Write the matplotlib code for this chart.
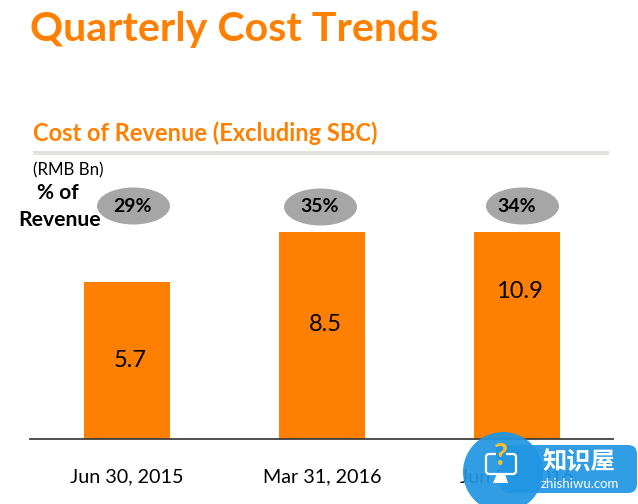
import matplotlib
matplotlib.use("Agg")
import matplotlib.pyplot as plt
from matplotlib.patches import Ellipse, FancyBboxPatch, Circle, Rectangle, Polygon

plt.rcParams['font.family'] = ['Lato', 'DejaVu Sans']

quarters = ["Jun 30, 2015", "Mar 31, 2016", "Jun 30, 2016"]
bar_heights = [5.7, 7.52, 7.52]   # heights as drawn in the source picture
value_labels = ["5.7", "8.5", "10.9"]
pct_labels = ["29%", "35%", "34%"]

ORANGE = "#FF8000"
W, H = 638, 504
fig = plt.figure(figsize=(W/100, H/100), dpi=100, facecolor="white")

# overlay in pixel coordinates for slide furniture
bg = fig.add_axes([0, 0, 1, 1])
bg.set_xlim(0, W); bg.set_ylim(H, 0); bg.axis("off")

# bar axes
x0, x1, ytop, ybase = 30, 613, 160, 439
ax = fig.add_axes([x0/W, 1-ybase/H, (x1-x0)/W, (ybase-ytop)/H])
ax.patch.set_alpha(0)
unit = 195.0
ax.set_xlim((x0-127)/unit, (x1-127)/unit)
ax.set_ylim(0, (ybase-ytop)/27.54)
xs = list(range(len(quarters)))
ax.bar(xs, bar_heights, width=86/unit, color=ORANGE, linewidth=0)
for s in ("top", "left", "right"):
    ax.spines[s].set_visible(False)
ax.spines["bottom"].set_color("#404040")
ax.spines["bottom"].set_linewidth(1.3)
ax.set_yticks([])
ax.set_xticks(xs)
ax.set_xticklabels(quarters, fontsize=14.2, color="black")
ax.tick_params(axis="x", length=0, pad=21)

# value labels inside bars (positions follow the source)
label_y = [2.85, 4.16, 5.37]
label_dx = 0.015
for x, y, t in zip(xs, label_y, value_labels):
    ax.text(x + label_dx, y, t, ha="center", va="center", fontsize=17, color="black")

# titles
bg.text(30, 30, "Quarterly Cost Trends", fontsize=29.6, fontweight="bold", color=ORANGE, ha="left", va="center")
bg.text(33, 133, "Cost of Revenue (Excluding SBC)", fontsize=17, fontweight="bold", color=ORANGE, ha="left", va="center")
bg.add_patch(Rectangle((33, 151), 576, 4, color="#E4E2DC", lw=0))
bg.text(33, 170, "(RMB Bn)", fontsize=12.2, color="black", ha="left", va="center")
bg.text(58, 193, "% of", fontsize=15, fontweight="bold", color="black", ha="center", va="center")
bg.text(59.5, 220, "Revenue", fontsize=15.2, fontweight="bold", color="black", ha="center", va="center")

# percentage ellipses
centers = [(133.5, 206), (320.5, 207), (522.5, 206)]
text_x = [133, 320, 516.5]
for (cx, cy), tx, t in zip(centers, text_x, pct_labels):
    bg.add_patch(Ellipse((cx, cy), 73, 37, color="#A6A6A6", lw=0))
    bg.text(tx, cy, t, fontsize=14, fontweight="bold", color="black", ha="center", va="center")

# watermark badge
top = fig.add_axes([0, 0, 1, 1], zorder=5)
top.set_xlim(0, W); top.set_ylim(H, 0); top.axis("off"); top.patch.set_alpha(0)
BLUE = "#2196E3"
top.add_patch(FancyBboxPatch((500, 445), 137, 48, boxstyle="round,pad=0,rounding_size=9", color=BLUE, lw=0, alpha=0.93))
top.add_patch(Circle((503, 472), 40, color=BLUE, lw=0, alpha=0.93))
top.add_patch(FancyBboxPatch((486, 454), 30, 20, boxstyle="round,pad=0,rounding_size=3", fc="none", ec="white", lw=1.6))
top.add_patch(Polygon([[497, 474], [505, 474], [508, 483], [493, 483]], color="white", lw=0))
top.add_patch(Rectangle((496, 446), 10, 14, color=BLUE, lw=0))
top.text(500.5, 456, "?", fontsize=22, fontweight="bold", color="#F5BE2C", ha="center", va="center")
top.text(579, 462, "知识屋", fontsize=17.5, fontweight="bold", color="white", ha="center", va="center",
         family=["Noto Sans CJK SC", "DejaVu Sans"])
top.text(580, 484, "zhishiwu.com", fontsize=9.5, color="white", ha="center", va="center")

fig.savefig("out.png", dpi=100)
